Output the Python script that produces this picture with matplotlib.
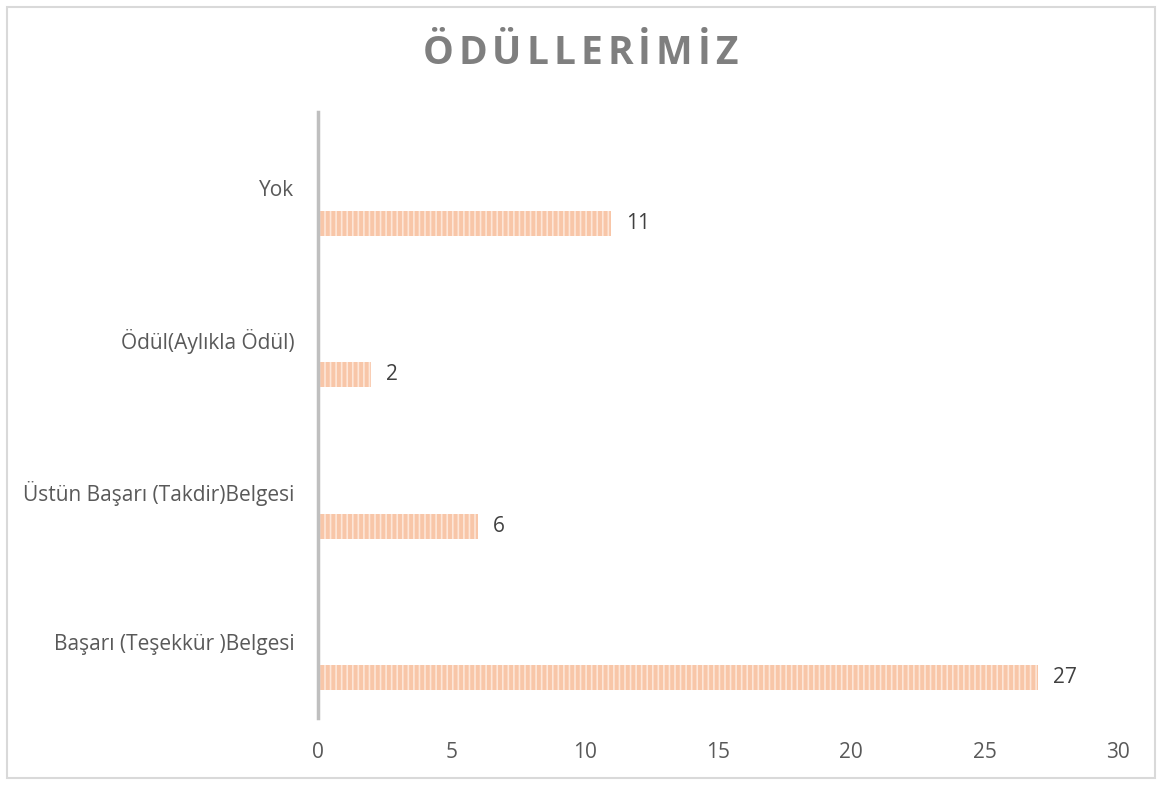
import matplotlib
matplotlib.use('Agg')
import matplotlib.pyplot as plt
from matplotlib.patches import Rectangle

plt.rcParams['font.family'] = ['Open Sans', 'DejaVu Sans']
plt.rcParams['hatch.linewidth'] = 1.2

categories = ['Başarı (Teşekkür )Belgesi', 'Üstün Başarı (Takdir)Belgesi',
              'Ödül(Aylıkla Ödül)', 'Yok']
values = [27, 6, 2, 11]
xticks = [0, 5, 10, 15, 20, 25, 30]
title = 'ÖDÜLLERİMİZ'

fig = plt.figure(figsize=(11.62, 7.85), dpi=100)
fig.patches.append(Rectangle((7/1162, 7/785), 1148/1162, 771/785, transform=fig.transFigure,
                             fill=False, edgecolor='#D9D9D9', linewidth=1.5))

ax = fig.add_axes([318/1162, 1 - 718/785, 800/1162, 606/785])
pos = list(range(len(categories)))
bar_pos = [p - 0.235 for p in pos]
ax.barh(bar_pos, values, height=0.165, color='#F8C6A8', edgecolor='#FDE6D8',
        hatch='|||', linewidth=0)

for y, v in zip(bar_pos, values):
    ax.text(v + 0.55, y, str(v), va='center', ha='left', fontsize=15, color='#404040')

ax.set_xlim(0, 30)
ax.set_ylim(-0.5, 3.5)
ax.set_xticks(xticks)
ax.set_xticklabels([str(t) for t in xticks])
ax.set_yticks(pos)
ax.set_yticklabels(categories)
ax.tick_params(axis='both', length=0, labelsize=15, labelcolor='#595959')
ax.tick_params(axis='x', pad=17)
ax.tick_params(axis='y', pad=17)
for s in ['top', 'right', 'bottom']:
    ax.spines[s].set_visible(False)
ax.spines['left'].set_color('#BFBFBF')
ax.spines['left'].set_linewidth(2.5)

# letter-spaced title, one glyph at a time
renderer = fig.canvas.get_renderer()
tmp = [fig.text(0, 0, ch, fontsize=28, fontweight='bold') for ch in title]
widths = [t.get_window_extent(renderer).width for t in tmp]
for t in tmp:
    t.remove()
gap = 5
total = sum(widths) + gap * (len(title) - 1)
x = 580 - total / 2
for ch, w in zip(title, widths):
    fig.text(x / 1162, 1 - 53/785, ch, ha='left', va='center',
             fontsize=28, fontweight='bold', color='#7F7F7F')
    x += w + gap

fig.savefig('out.png', dpi=100)
